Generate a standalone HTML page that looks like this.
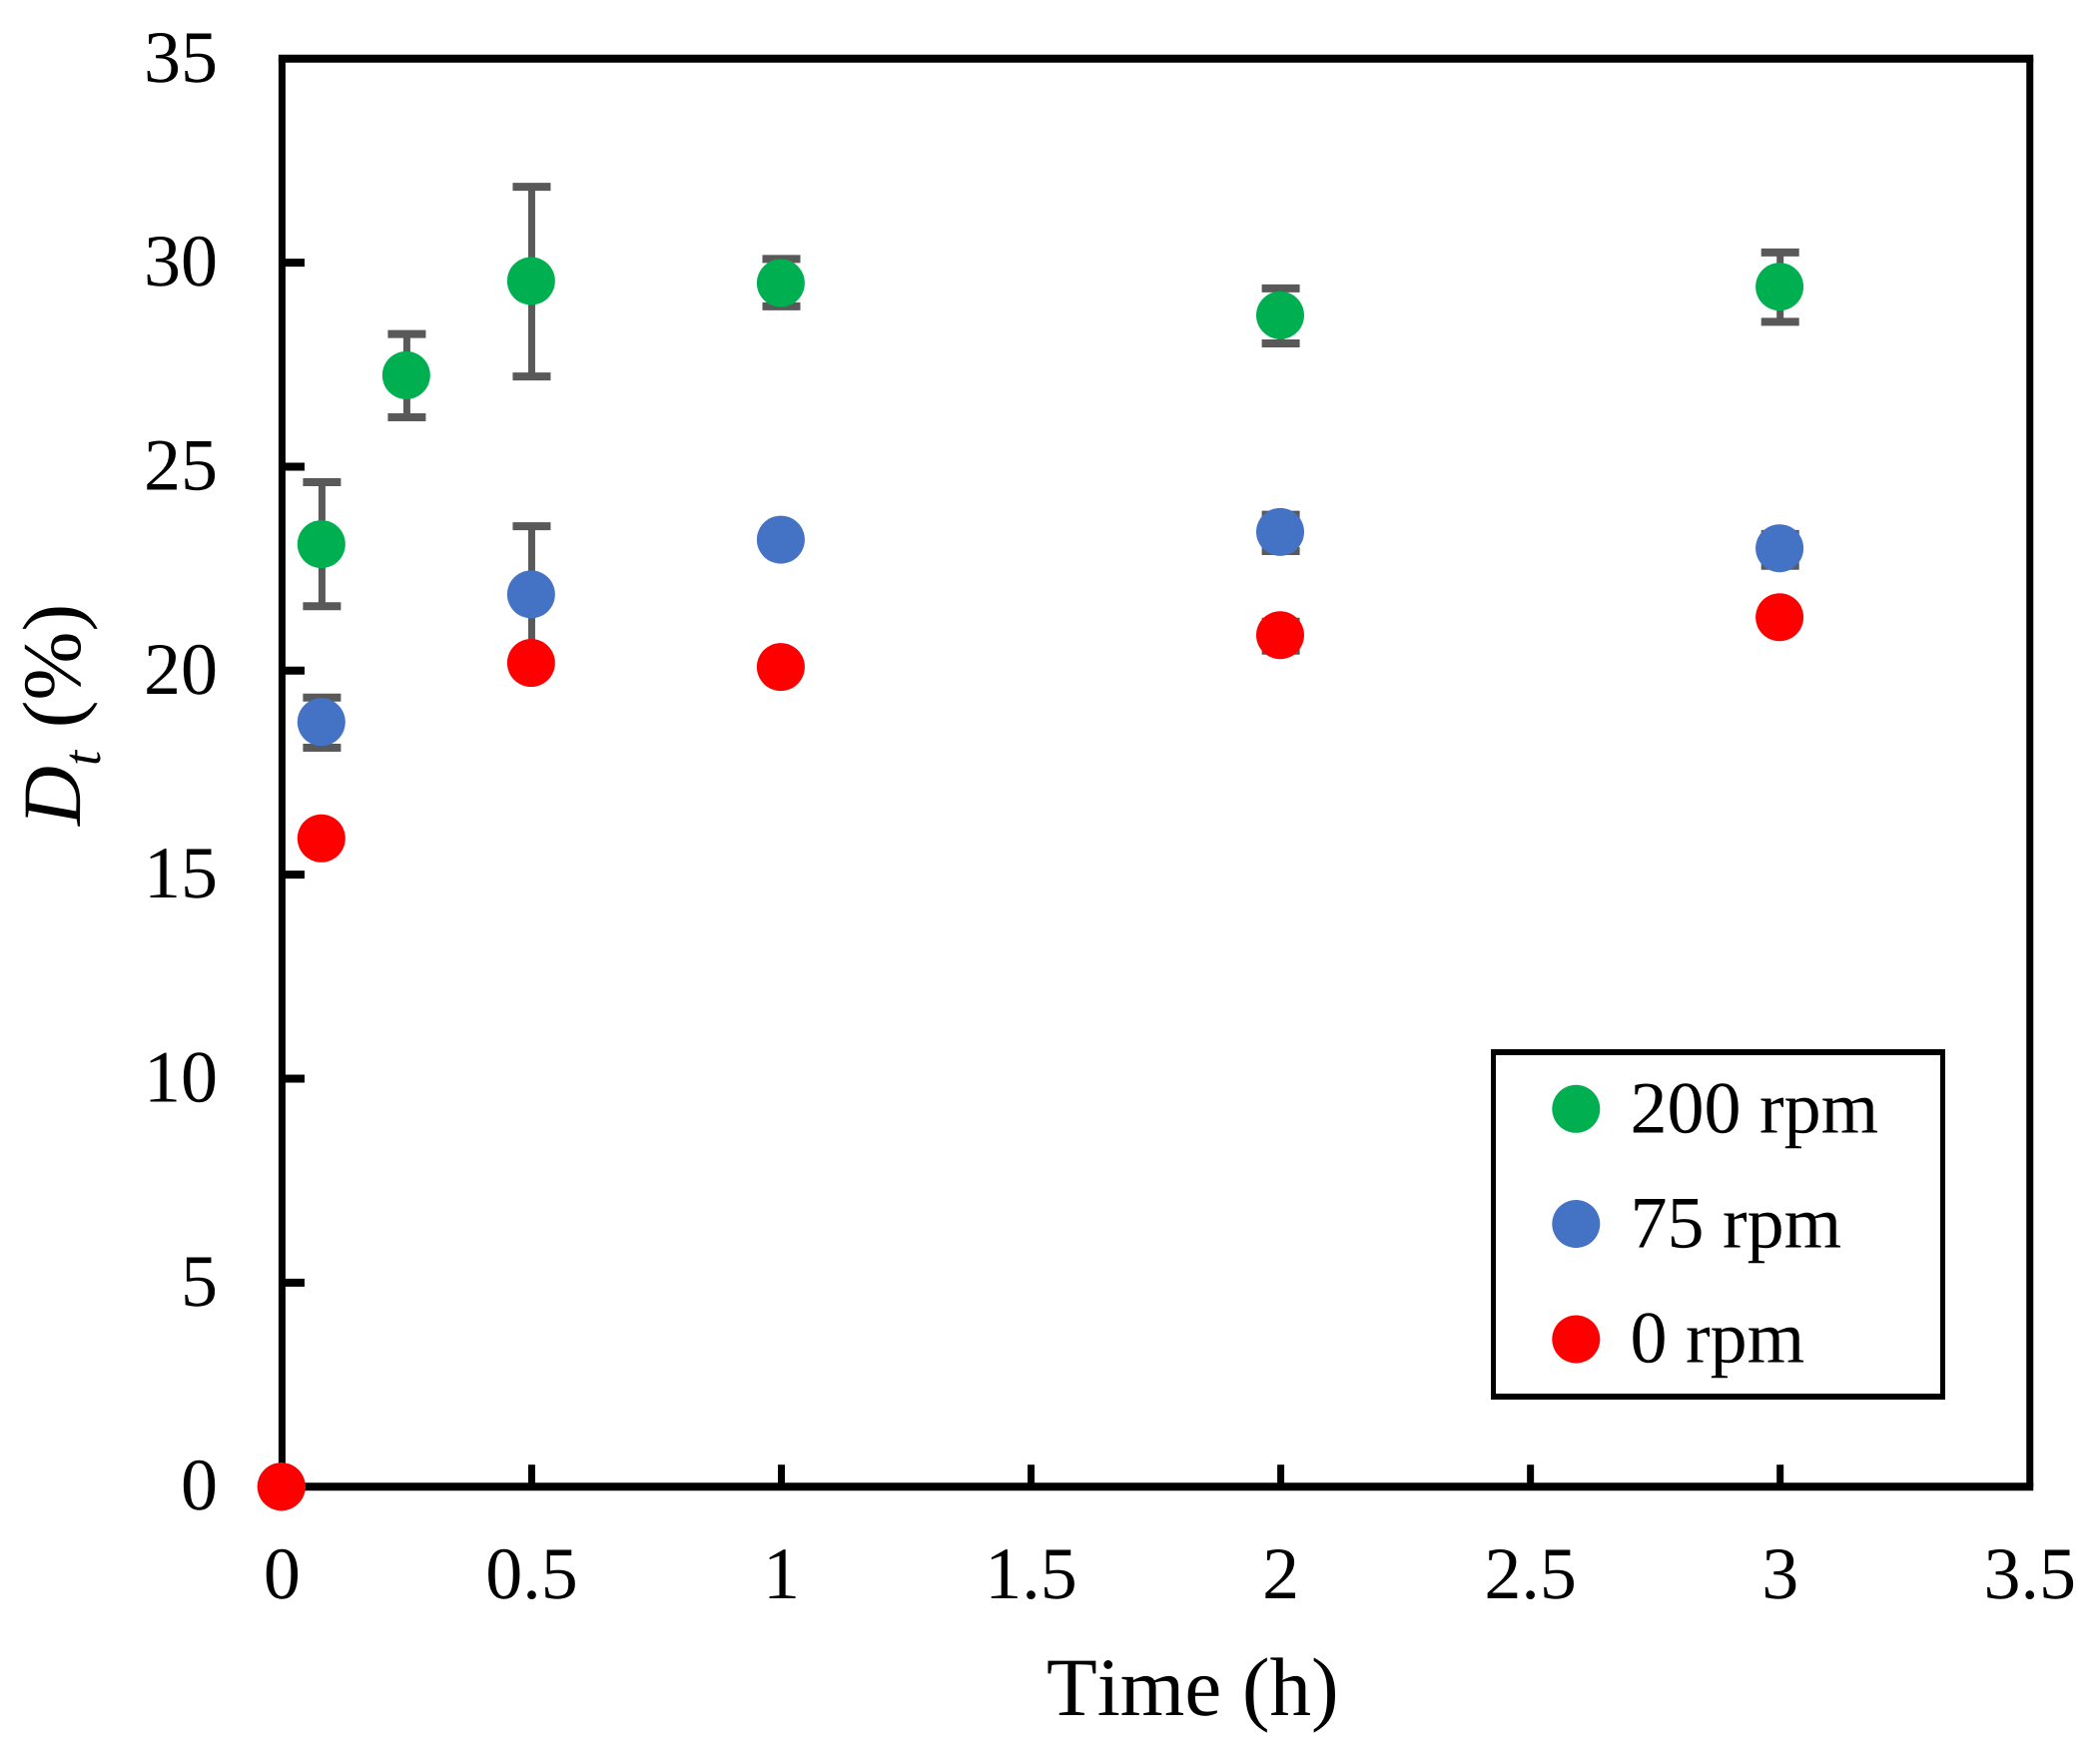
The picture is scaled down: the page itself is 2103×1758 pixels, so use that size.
<!DOCTYPE html>
<html lang="en">
<head>
<meta charset="utf-8">
<title>Dt (%) versus time</title>
<style>
html,body{margin:0;padding:0;background:#fff;}
svg{display:block;}
text{font-family:"Liberation Serif","Times New Roman",serif;fill:#000;text-rendering:geometricPrecision;font-kerning:none;}
</style>
</head>
<body>
<svg id="chart" xmlns="http://www.w3.org/2000/svg" width="2103" height="1758" viewBox="0 0 2103 1758">
  <rect x="0" y="0" width="2103" height="1758" fill="#fff"/>
  <g id="axes"></g>
  <g id="errors"></g>
  <g id="marks"></g>
  <text x="1048" y="1718" font-size="83">Time (h)</text>
  <text transform="translate(80,827) rotate(-90)" font-size="83"><tspan font-style="italic">D</tspan><tspan font-style="italic" font-size="54" dy="20">t</tspan><tspan dy="-20" dx="2"> (%)</tspan></text>
  <g>
    <rect x="1493" y="1051" width="455" height="351" fill="#000"/>
    <rect x="1498" y="1057" width="445" height="339" fill="#fff"/>
    <g>
      <circle cx="1578.3" cy="1110.8" r="24" fill="#00B050"/>
      <text x="1632.5" y="1134.5" font-size="74">200 rpm</text>
    </g>
    <g>
      <circle cx="1578.3" cy="1226" r="24" fill="#4472C4"/>
      <text x="1632.5" y="1249.5" font-size="74">75 rpm</text>
    </g>
    <g>
      <circle cx="1578.3" cy="1341.5" r="24" fill="#FF0000"/>
      <text x="1632.5" y="1364.5" font-size="74">0 rpm</text>
    </g>
  </g>
</svg>
<script>
const xTickValues = [0, 0.5, 1, 1.5, 2, 2.5, 3, 3.5];
const xTickLabels = ['0', '0.5', '1', '1.5', '2', '2.5', '3', '3.5'];
const yTickValues = [0, 5, 10, 15, 20, 25, 30, 35];
const yTickLabels = ['0', '5', '10', '15', '20', '25', '30', '35'];

const timesGreen = [0, 0.08, 0.25, 0.5, 1, 2, 3];
const valuesGreen = [0, 23.1, 27.24, 29.55, 29.5, 28.71, 29.41];
const highGreen = [null, 24.62, 28.25, 31.86, 30.09, 29.37, 30.25];
const lowGreen = [null, 21.58, 26.21, 27.21, 28.93, 28.02, 28.55];

const timesBlue = [0, 0.08, 0.5, 1, 2, 3];
const valuesBlue = [0, 18.74, 21.87, 23.21, 23.4, 23.0];
const highBlue = [null, 19.34, 23.54, null, 23.82, 23.35];
const lowBlue = [null, 18.11, 20.2, null, 22.93, 22.57];

const timesRed = [0, 0.08, 0.5, 1, 2, 3];
const valuesRed = [0, 15.89, 20.19, 20.09, 20.87, 21.31];
const highRed = [null, null, null, null, 21.2, null];
const lowRed = [null, null, null, null, 20.49, null];

const NS = 'http://www.w3.org/2000/svg';
function xScale(t) { return 282.4 + 500.1 * t; }
function yScale(v) { return 1489.2 - 40.87 * v; }
function shape(tag, attrs, parent) {
  const el = document.createElementNS(NS, tag);
  Object.keys(attrs).forEach(function (k) { el.setAttribute(k, attrs[k]); });
  parent.appendChild(el);
  return el;
}

const axesG = document.getElementById('axes');
const errorsG = document.getElementById('errors');
const marksG = document.getElementById('marks');

const xMin = xScale(0);
const xMax = xScale(3.5);
const yBottom = yScale(0);
const yTop = yScale(35);

const frameTop = shape('line', { x1: xMin - 3.5, x2: xMax + 3.5, y1: yTop, y2: yTop, stroke: '#000', 'stroke-width': 8 }, axesG);


const frameBottom = shape('line', { x1: xMin - 3.5, x2: xMax + 3.5, y1: yBottom, y2: yBottom, stroke: '#000', 'stroke-width': 8 }, axesG);


const frameLeft = shape('line', { x1: xMin, x2: xMin, y1: yTop, y2: yBottom, stroke: '#000', 'stroke-width': 7 }, axesG);


const frameRight = shape('line', { x1: xMax, x2: xMax, y1: yTop, y2: yBottom, stroke: '#000', 'stroke-width': 7 }, axesG);



xTickValues.forEach(function (t, i) {
  if (t > 0 && t < 3.5) {
    const tick = shape('line', {
      x1: xScale(t), x2: xScale(t), y1: yScale(0), y2: yScale(0) - 22,
      stroke: '#000', 'stroke-width': 7
    }, axesG);
    
    
  }
  const label = shape('text', {
    x: xScale(t), y: 1601, 'font-size': 74, 'text-anchor': 'middle'
  }, axesG);
  label.textContent = xTickLabels[i];
  
  
});

yTickValues.forEach(function (v, i) {
  if (v > 0 && v < 35) {
    const tick = shape('line', {
      x1: xScale(0), x2: xScale(0) + 22.6, y1: yScale(v), y2: yScale(v),
      stroke: '#000', 'stroke-width': 8
    }, axesG);
    
    
  }
  const label = shape('text', {
    x: 218, y: yScale(v) + 23, 'font-size': 74, 'text-anchor': 'end'
  }, axesG);
  label.textContent = yTickLabels[i];
  
  
});

function drawErrors(times, high, low, seriesName) {
  times.forEach(function (t, i) {
    const x = xScale(t);
    if (high[i] !== null && low[i] !== null) {
      const stem = shape('line', {
        x1: x, x2: x, y1: yScale(high[i]), y2: yScale(low[i]),
        stroke: '#595959', 'stroke-width': 7
      }, errorsG);
      
      
      const capTop = shape('line', {
        x1: x - 19, x2: x + 19, y1: yScale(high[i]), y2: yScale(high[i]),
        stroke: '#595959', 'stroke-width': 8
      }, errorsG);
      
      
      const capBottom = shape('line', {
        x1: x - 19, x2: x + 19, y1: yScale(low[i]), y2: yScale(low[i]),
        stroke: '#595959', 'stroke-width': 8
      }, errorsG);
      
      
    }
  });
}

function drawMarkers(times, values, color, seriesName) {
  times.forEach(function (t, i) {
    const dot = shape('circle', {
      cx: xScale(t) - 0.6, cy: yScale(values[i]), r: 24, fill: color
    }, marksG);
    
    
  });
}

drawErrors(timesGreen, highGreen, lowGreen, '200-rpm');
drawErrors(timesBlue, highBlue, lowBlue, '75-rpm');
drawErrors(timesRed, highRed, lowRed, '0-rpm');

drawMarkers(timesGreen, valuesGreen, '#00B050', '200-rpm');
drawMarkers(timesBlue, valuesBlue, '#4472C4', '75-rpm');
drawMarkers(timesRed, valuesRed, '#FF0000', '0-rpm');
</script>
</body>
</html>
